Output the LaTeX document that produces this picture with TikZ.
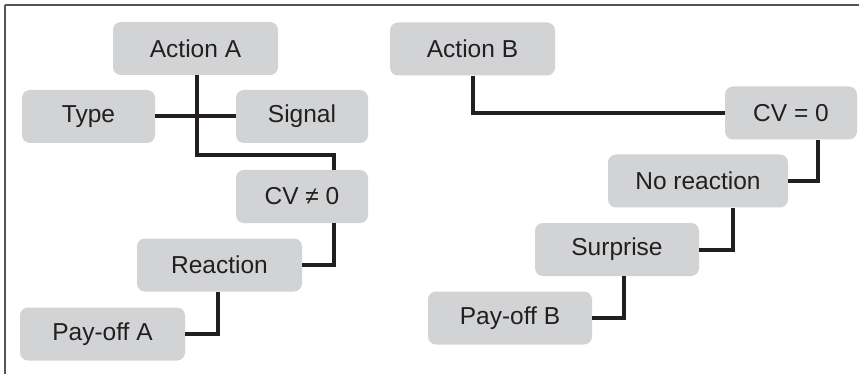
\documentclass[tikz,border=0pt]{standalone}
\usepackage{fontspec}
\setmainfont{Liberation Sans}
\definecolor{boxfill}{HTML}{D1D3D4}
\definecolor{ink}{HTML}{231F20}
\definecolor{framec}{HTML}{555555}
\tikzset{
  box/.style={rectangle, rounded corners=8pt, fill=boxfill, draw=none, inner sep=0pt,
    minimum height=53pt, text=ink, font=\fontsize{24.5}{28}\selectfont},
  link/.style={draw=ink, line width=4pt, line join=miter},
  frameline/.style={draw=framec}
}
\begin{document}
\begin{tikzpicture}[x=1pt,y=-1pt]
\useasboundingbox (0,0) rectangle (859,374);
\fill[white] (0,0) rectangle (859,374);
% frame
\coordinate (fTL) at (5,5);
\coordinate (fTR) at (859,5);
\coordinate (fBL) at (5,374);
\draw[frameline, line width=1.6pt] (fTL) -- (fTR);
\draw[frameline, line width=1.1pt] (fTL) -- (fBL);
% left tree
\node[box, minimum width=165pt] (ActionA) at (195.5,48.5) {Action A};
\node[box, minimum width=133pt] (Type) at (88.5,116.5) {Type};
\node[box, minimum width=132pt] (Signal) at (302,116.5) {Signal};
\node[box, minimum width=132pt] (CVne) at (302,196.5) {CV ≠ 0};
\node[box, minimum width=165pt] (Reaction) at (219.5,265) {Reaction};
\node[box, minimum width=165pt] (PayA) at (102.5,334) {Pay-off A};
% right tree
\node[box, minimum width=165pt] (ActionB) at (472.5,49) {Action B};
\node[box, minimum width=132pt] (CVzero) at (791,113) {CV = 0};
\node[box, minimum width=180pt] (NoReaction) at (698,181) {No reaction};
\node[box, minimum width=164pt] (Surprise) at (617,249.5) {Surprise};
\node[box, minimum width=164pt] (PayB) at (510,318) {Pay-off B};
% connectors left
\draw[link] (Type.east) -- (Signal.west);
\draw[link] ([xshift=1.5pt]ActionA.south) |- ([xshift=32pt,yshift=15pt]CVne.north) -- ([xshift=32pt]CVne.north);
\draw[link] ([xshift=32pt]CVne.south) |- (Reaction.east);
\draw[link] ([xshift=-1.5pt]Reaction.south) |- (PayA.east);
% connectors right
\draw[link] (ActionB.south) |- (CVzero.west);
\draw[link] ([xshift=27pt]CVzero.south) |- (NoReaction.east);
\draw[link] ([xshift=35pt]NoReaction.south) |- (Surprise.east);
\draw[link] ([xshift=7pt]Surprise.south) |- (PayB.east);
\end{tikzpicture}
\end{document}
